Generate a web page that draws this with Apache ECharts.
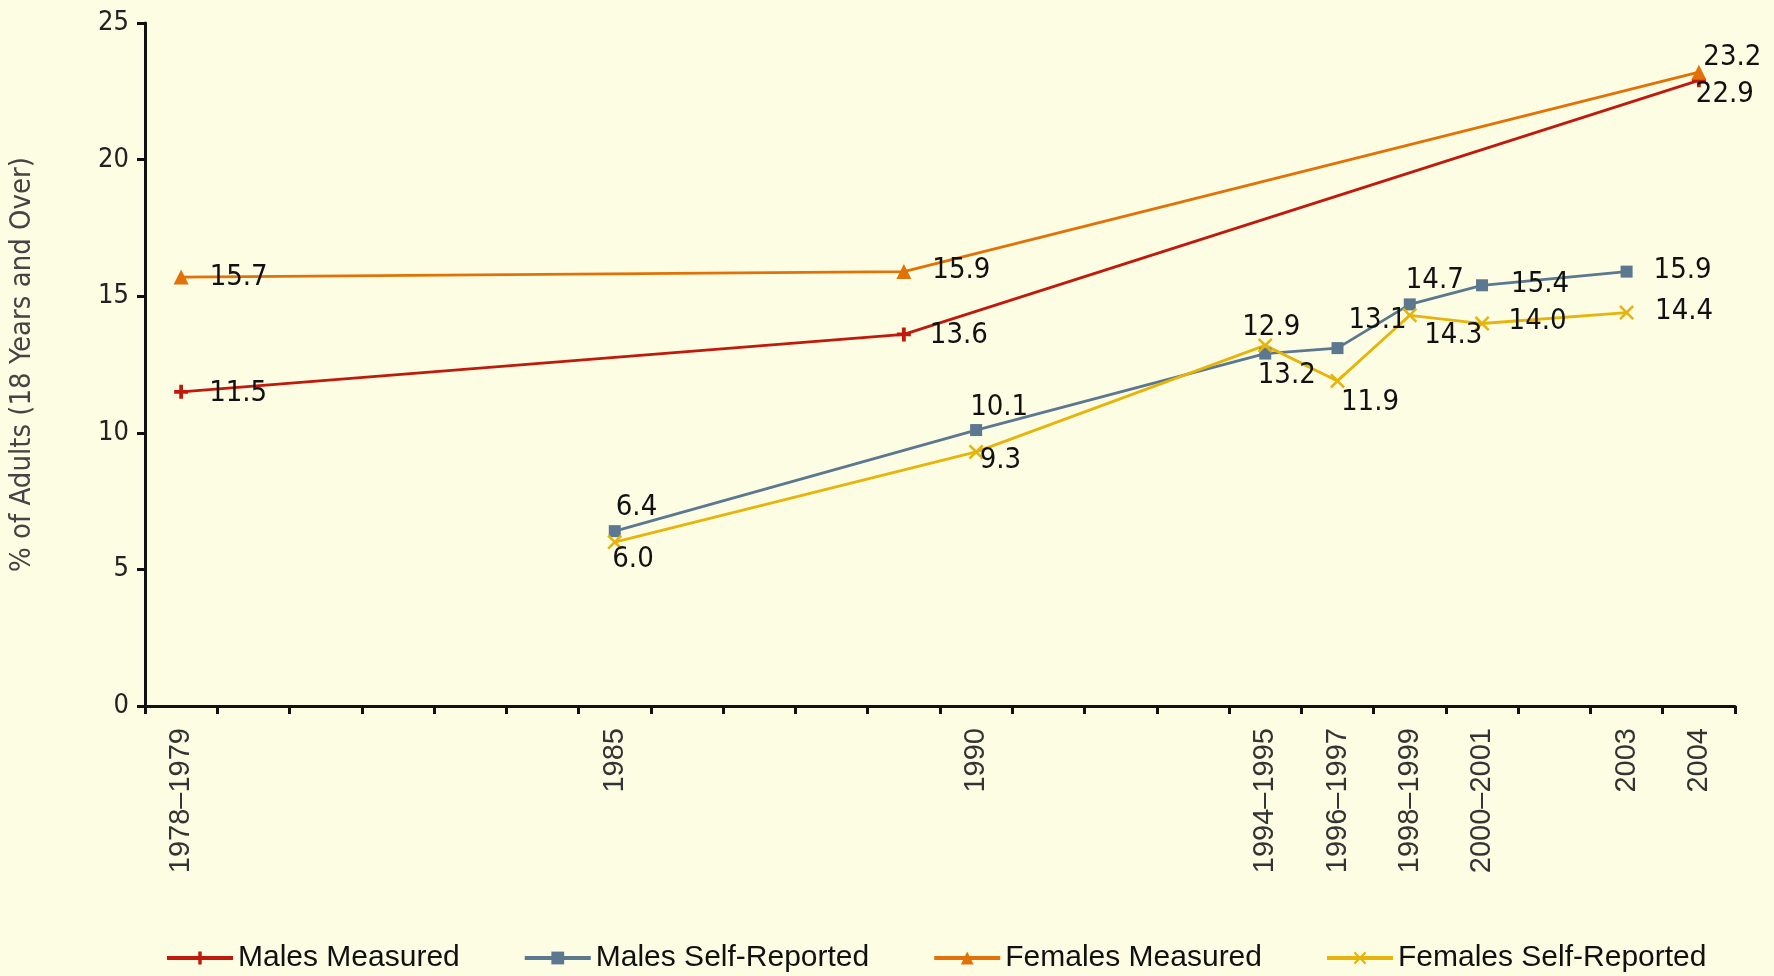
<!DOCTYPE html>
<html>
<head>
<meta charset="utf-8">
<script src="https://cdn.jsdelivr.net/npm/echarts@6/dist/echarts.min.js"></script>
<style>
  html, body { margin: 0; padding: 0; background: #FCFDE3; }
  #chart { width: 1774px; height: 976px; }
</style>
</head>
<body>
<div id="chart"></div>
<script>
// survey periods (one slot per category, most slots unlabelled)
const periods = [
  "1978–1979", "", "", "", "", "", "1985", "", "", "", "", "1990", "", "", "",
  "1994–1995", "1996–1997", "1998–1999", "2000–2001", "", "2003", "2004"
];

const malesMeasured = [11.5, null, null, null, null, null, null, null, null, null, 13.6,
  null, null, null, null, null, null, null, null, null, null, 22.9];
const malesSelfReported = [null, null, null, null, null, null, 6.4, null, null, null, null,
  10.1, null, null, null, 12.9, 13.1, 14.7, 15.4, null, 15.9, null];
const femalesMeasured = [15.7, null, null, null, null, null, null, null, null, null, 15.9,
  null, null, null, null, null, null, null, null, null, null, 23.2];
const femalesSelfReported = [null, null, null, null, null, null, 6.0, null, null, null, null,
  9.3, null, null, null, 13.2, 11.9, 14.3, 14.0, null, 14.4, null];

const seriesNames = ["Males Measured", "Males Self-Reported", "Females Measured", "Females Self-Reported"];

// label nudges, in order of the non-empty points of each series
const labelNudges = [
  [[21, 2], [19, 1], [-10, 14]],
  [[-5, -24], [-12, -23], [-29, -26], [5, -28], [-10, -24], [23, -1], [21, -1]],
  [[21, 0], [21, -1], [-3, -15]],
  [[-10, 17], [-4, 9], [-15, 30], [-4, 22], [7, 20], [19, -2], [21, -1]]
];

const plusPath = "path://M4,0h3v4h4v3h-4v4h-3v-4h-4v-3h4z";
const crossPath = "path://M0,1.2L1.2,0L5,3.8L8.8,0L10,1.2L6.2,5L10,8.8L8.8,10L5,6.2L1.2,10L0,8.8L3.8,5Z";

const colors = ["#C01A0C", "#5B7890", "#E27208", "#E6B40A"];
const symbols = [plusPath, "rect", "triangle", crossPath];
const symbolSizes = [14, 12, 15, 15];

function withLabels(values, nudges) {
  let k = 0;
  return values.map(v => {
    if (v == null) return null;
    const off = nudges[k++];
    return { value: v, label: { offset: off } };
  });
}

const allValues = [malesMeasured, malesSelfReported, femalesMeasured, femalesSelfReported];

const series = allValues.map((vals, i) => ({
  name: seriesNames[i],
  type: "line",
  data: withLabels(vals, labelNudges[i]),
  connectNulls: true,
  symbol: symbols[i],
  symbolSize: symbolSizes[i],
  showAllSymbol: true,
  lineStyle: { color: colors[i], width: 2.8 },
  itemStyle: { color: colors[i] },
  label: {
    show: true,
    position: "right",
    distance: 0,
    formatter: p => p.value.toFixed(1),
    fontFamily: "'Liberation Sans Narrow', 'DejaVu Sans Condensed', sans-serif",
    fontSize: 29,
    color: "#111"
  },
  animation: false
}));

const chart = echarts.init(document.getElementById("chart"));
chart.setOption({
  backgroundColor: "#FCFDE3",
  textStyle: { fontFamily: "'Liberation Sans', sans-serif" },
  grid: { left: 145, right: 39, top: 23, bottom: 270 },
  legend: {
    data: seriesNames,
    left: 165,
    top: 943,
    padding: 0,
    itemWidth: 66,
    itemHeight: 16,
    itemGap: 63,
    lineStyle: { width: 4 },
    textStyle: { fontSize: 30, color: "#111", fontFamily: "'Liberation Sans', sans-serif" }
  },
  xAxis: {
    type: "category",
    data: periods,
    boundaryGap: true,
    axisLine: { lineStyle: { color: "#111", width: 3 } },
    axisTick: { show: true, inside: false, length: 8, interval: 0, lineStyle: { color: "#111", width: 3 } },
    axisLabel: {
      interval: 0,
      rotate: 90,
      margin: 22,
      fontSize: 29,
      color: "#333",
      fontFamily: "'Liberation Sans', sans-serif"
    }
  },
  yAxis: {
    type: "value",
    min: 0,
    max: 25,
    interval: 5,
    name: "% of Adults (18 Years and Over)",
    nameLocation: "middle",
    nameGap: 108,
    nameTextStyle: { fontSize: 29, color: "#444", fontFamily: "'Liberation Sans Narrow', 'DejaVu Sans Condensed', sans-serif" },
    splitLine: { show: false },
    axisLine: { show: true, lineStyle: { color: "#111", width: 3 } },
    axisTick: { show: true, length: 8, lineStyle: { color: "#111", width: 3 } },
    axisLabel: {
      margin: 16,
      fontSize: 27,
      color: "#222",
      fontFamily: "'Liberation Sans Narrow', 'DejaVu Sans Condensed', sans-serif"
    }
  },
  series: series
});
</script>
</body>
</html>
